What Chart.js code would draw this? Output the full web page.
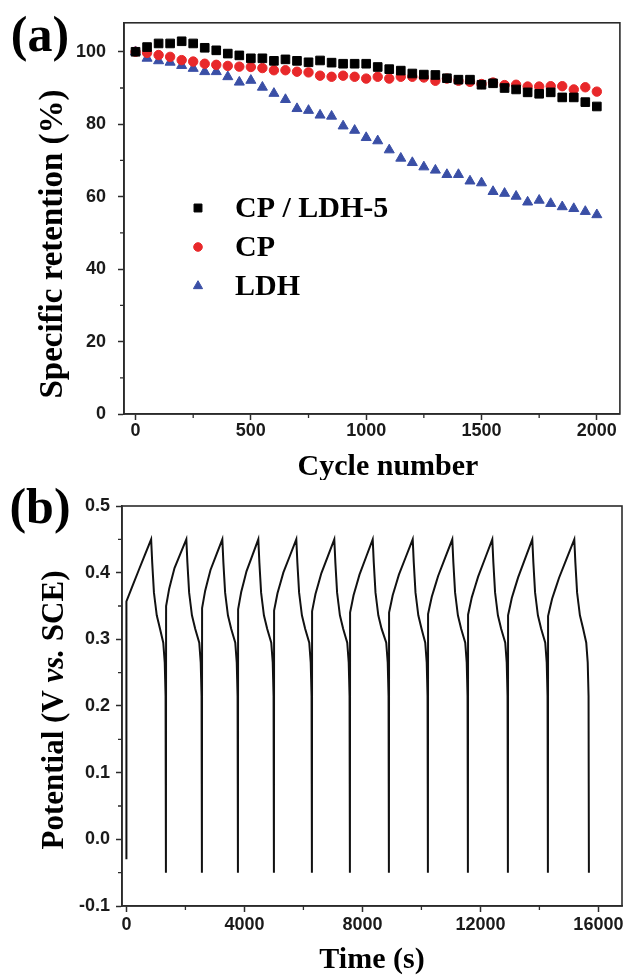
<!DOCTYPE html>
<html>
<head>
<meta charset="utf-8">
<script src="https://cdn.jsdelivr.net/npm/chart.js@4.4.1/dist/chart.umd.min.js"></script>
<style>
  body { margin: 0; background: #fff; width: 627px; height: 978px; overflow: hidden; position: relative; }
  .panel { position: absolute; left: 0; width: 627px; }
  #panelA { top: 0; height: 480px; }
  #panelB { top: 480px; height: 498px; }
</style>
</head>
<body>
<div class="panel" id="panelA"><canvas id="retentionChart" width="627" height="480"></canvas></div>
<div class="panel" id="panelB"><canvas id="gcdChart" width="627" height="498"></canvas></div>
<script>
// ---- panel (a): retention vs cycle number ----
const cycleNumbers = [0, 50, 100, 150, 200, 250, 300, 350, 400, 450, 500, 550, 600, 650, 700, 750, 800, 850, 900, 950,
    1000, 1050, 1100, 1150, 1200, 1250, 1300, 1350, 1400, 1450, 1500, 1550, 1600, 1650, 1700, 1750, 1800, 1850, 1900, 1950, 2000];
const retentionCpLdh = [100, 101.3, 102.3, 102.3, 102.9, 102.3, 101.1, 100.4, 99.5, 99.0, 98.2, 98.2, 97.5, 97.9, 97.5, 97.1, 97.6, 97.0, 96.7, 96.7,
    96.7, 95.8, 95.2, 94.8, 94.0, 93.7, 93.6, 92.7, 92.3, 92.3, 90.9, 91.3, 90.0, 89.6, 88.8, 88.4, 88.8, 87.4, 87.4, 86.1, 84.9];
const retentionCp = [100, 99.7, 99.1, 98.6, 97.7, 97.3, 96.7, 96.4, 96.1, 95.9, 95.8, 95.5, 94.9, 94.9, 94.5, 94.3, 93.4, 93.1, 93.4, 93.1,
    92.6, 93.1, 92.6, 93.1, 93.1, 92.9, 92.0, 92.6, 92.0, 91.7, 91.1, 91.5, 90.8, 90.9, 90.4, 90.4, 90.5, 90.5, 89.6, 90.2, 89.0];
const retentionLdh = [100, 98.2, 97.5, 97.1, 96.2, 95.4, 94.5, 94.5, 93.1, 91.6, 92.1, 90.2, 88.5, 86.8, 84.3, 83.8, 82.5, 82.2, 79.5, 78.3,
    76.3, 75.4, 72.9, 70.6, 69.4, 68.2, 67.3, 66.1, 66.1, 64.3, 63.8, 61.4, 60.9, 60.1, 58.5, 59.0, 58.1, 57.2, 56.7, 55.9, 55.0];
const seriesNames = ['CP / LDH-5', 'CP', 'LDH'];
const cycleTicks = [0, 500, 1000, 1500, 2000];
const cycleMinorTicks = [250, 750, 1250, 1750];
const retentionTicks = [0, 20, 40, 60, 80, 100];
const retentionMinorTicks = [10, 30, 50, 70, 90];

// ---- panel (b): galvanostatic charge / discharge ----
const gcdTime = [
    0, 0, 420, 838, 873, 933, 1028, 1138, 1249, 1299, 1327, 1339,
    1345, 1450, 1630, 2031, 2066, 2126, 2221, 2331, 2469, 2519, 2547, 2559,
    2565, 2670, 2850, 3251, 3286, 3346, 3441, 3551, 3690, 3740, 3768, 3780,
    3786, 3891, 4070, 4471, 4506, 4566, 4661, 4771, 4910, 4960, 4988, 5000,
    5006, 5121, 5319, 5759, 5794, 5854, 5949, 6059, 6198, 6248, 6276, 6288,
    6294, 6409, 6607, 7047, 7082, 7142, 7237, 7347, 7486, 7536, 7564, 7576,
    7582, 7700, 7901, 8349, 8384, 8444, 8539, 8649, 8808, 8858, 8886, 8898,
    8904, 9027, 9237, 9705, 9740, 9800, 9895, 10005, 10130, 10180, 10208, 10220,
    10226, 10352, 10567, 11047, 11082, 11142, 11237, 11347, 11486, 11536, 11564, 11576,
    11582, 11708, 11923, 12403, 12438, 12498, 12593, 12703, 12842, 12892, 12920, 12932,
    12938, 13064, 13279, 13759, 13794, 13854, 13949, 14059, 14198, 14248, 14276, 14288,
    14294, 14431, 14664, 15183, 15218, 15278, 15373, 15483, 15588, 15638, 15666, 15678
];
const gcdPotential = [
    -0.03, 0.357, 0.404, 0.45, 0.416, 0.37, 0.336, 0.316, 0.295, 0.265, 0.215, -0.05,
    0.350, 0.376, 0.407, 0.45, 0.416, 0.37, 0.336, 0.316, 0.295, 0.265, 0.215, -0.05,
    0.347, 0.373, 0.404, 0.45, 0.416, 0.37, 0.336, 0.316, 0.295, 0.265, 0.215, -0.05,
    0.345, 0.371, 0.402, 0.45, 0.416, 0.37, 0.336, 0.316, 0.295, 0.265, 0.215, -0.05,
    0.343, 0.369, 0.400, 0.45, 0.416, 0.37, 0.336, 0.316, 0.295, 0.265, 0.215, -0.05,
    0.342, 0.368, 0.399, 0.45, 0.416, 0.37, 0.336, 0.316, 0.295, 0.265, 0.215, -0.05,
    0.340, 0.366, 0.397, 0.45, 0.416, 0.37, 0.336, 0.316, 0.295, 0.265, 0.215, -0.05,
    0.340, 0.366, 0.397, 0.45, 0.416, 0.37, 0.336, 0.316, 0.295, 0.265, 0.215, -0.05,
    0.338, 0.364, 0.395, 0.45, 0.416, 0.37, 0.336, 0.316, 0.295, 0.265, 0.215, -0.05,
    0.337, 0.363, 0.394, 0.45, 0.416, 0.37, 0.336, 0.316, 0.295, 0.265, 0.215, -0.05,
    0.336, 0.362, 0.393, 0.45, 0.416, 0.37, 0.336, 0.316, 0.295, 0.265, 0.215, -0.05,
    0.335, 0.361, 0.392, 0.45, 0.416, 0.37, 0.336, 0.316, 0.295, 0.265, 0.215, -0.05
];
const timeTicks = [0, 4000, 8000, 12000, 16000];
const timeMinorTicks = [2000, 6000, 10000, 14000];
const potentialTicks = [-0.1, 0, 0.1, 0.2, 0.3, 0.4, 0.5];
const potentialMinorTicks = [-0.05, 0.05, 0.15, 0.25, 0.35, 0.45];

const SERIF = "'Liberation Serif', 'Times New Roman', serif";
const SANS = "'Liberation Sans', Arial, sans-serif";
const AXIS_COLOR = '#2b2b2b';
const tickFont = { family: SANS, size: 18, weight: 'bold' };

// draws a (possibly rotated) label made of several font runs, centred on x,y
function drawRuns(ctx, runs, x, y, rotate) {
    ctx.save();
    ctx.translate(x, y);
    if (rotate) ctx.rotate(-Math.PI / 2);
    ctx.textBaseline = 'middle';
    ctx.textAlign = 'left';
    ctx.fillStyle = '#000';
    let total = 0;
    runs.forEach(r => { ctx.font = r.font; total += ctx.measureText(r.text).width; });
    let cx = -total / 2;
    runs.forEach(r => {
        ctx.font = r.font;
        ctx.fillText(r.text, cx, 0);
        cx += ctx.measureText(r.text).width;
    });
    ctx.restore();
}

// box round the plot, short minor ticks, titles and panel letters
function makeDecorPlugin(cfg) {
    return {
        id: 'decor',
        afterDraw(chart) {
            const { ctx, chartArea: a, scales } = chart;
            ctx.save();
            ctx.strokeStyle = AXIS_COLOR;
            ctx.lineWidth = 1.6;
            ctx.strokeRect(a.left, a.top, a.right - a.left, a.bottom - a.top);
            ctx.lineWidth = 1.3;
            ctx.beginPath();
            cfg.xMinor.forEach(v => {
                const px = scales.x.getPixelForValue(v);
                ctx.moveTo(px, a.bottom);
                ctx.lineTo(px, a.bottom + 4);
            });
            cfg.yMinor.forEach(v => {
                const py = scales.y.getPixelForValue(v);
                ctx.moveTo(a.left, py);
                ctx.lineTo(a.left - 4, py);
            });
            ctx.stroke();
            ctx.restore();
            cfg.texts.forEach(t => drawRuns(ctx, t.runs, t.x, t.y, t.rotate));
            if (cfg.legend) cfg.legend(chart);
        }
    };
}

function axisOptions(min, max, ticks, fmt, size, isX, pad) {
    return {
        type: 'linear',
        min: min,
        max: max,
        afterBuildTicks: axis => { axis.ticks = ticks.map(v => ({ value: v })); },
        afterFit: scale => { if (isX) scale.height = size; else scale.width = size; },
        grid: { drawOnChartArea: false, drawTicks: true, tickLength: 6, tickColor: AXIS_COLOR, tickWidth: 1.5 },
        border: { display: true, color: AXIS_COLOR, width: 1.6 },
        ticks: { autoSkip: false, maxRotation: 0, font: tickFont, color: '#1a1a1a', padding: pad, callback: fmt }
    };
}

// ---------- chart (a) ----------
const retentionStyles = [
    { color: '#000000', pointStyle: 'rect', radius: 6.1, legendRadius: 5.6 },
    { color: '#e8282a', pointStyle: 'circle', radius: 4.7, legendRadius: 4.3 },
    { color: '#3a4fa6', pointStyle: 'triangle', radius: 5.8, legendRadius: 5.3 }
];
const retentionSeries = [retentionCpLdh, retentionCp, retentionLdh];

// legend sits inside the plot area, marker then left-aligned name
function drawLegend(chart) {
    const ctx = chart.ctx;
    const rows = [208, 247, 286];
    retentionStyles.forEach((s, i) => {
        ctx.save();
        ctx.fillStyle = s.color;
        ctx.strokeStyle = s.color;
        Chart.helpers.drawPoint(ctx, { pointStyle: s.pointStyle, radius: s.legendRadius, rotation: 0, borderWidth: 1 }, 198, rows[i]);
        ctx.fillStyle = '#000';
        ctx.font = 'bold 30px ' + SERIF;
        ctx.textBaseline = 'middle';
        ctx.textAlign = 'left';
        ctx.fillText(seriesNames[i], 235, rows[i] + 1);
        ctx.restore();
    });
}

new Chart(document.getElementById('retentionChart'), {
    type: 'line',
    data: {
        datasets: retentionSeries.map((vals, i) => ({
            label: seriesNames[i],
            data: cycleNumbers.map((c, j) => ({ x: c, y: vals[j] })),
            showLine: false,
            pointStyle: retentionStyles[i].pointStyle,
            pointRadius: retentionStyles[i].radius,
            pointBackgroundColor: retentionStyles[i].color,
            pointBorderColor: retentionStyles[i].color,
            pointBorderWidth: 1
        }))
    },
    options: {
        responsive: false,
        animation: false,
        events: [],
        layout: { padding: { top: 16, right: 5, left: 0, bottom: 0 } },
        plugins: { legend: { display: false }, tooltip: { enabled: false } },
        scales: {
            x: axisOptions(-50, 2100, cycleTicks, v => String(v), 66, true, 0),
            y: axisOptions(0, 108, retentionTicks, v => String(v), 124, false, 12)
        }
    },
    plugins: [makeDecorPlugin({
        xMinor: cycleMinorTicks,
        yMinor: retentionMinorTicks,
        legend: drawLegend,
        texts: [
            { runs: [{ text: '(a)', font: 'bold 50px ' + SERIF }], x: 40, y: 38 },
            { runs: [{ text: 'Cycle number', font: 'bold 30px ' + SERIF }], x: 388, y: 467 },
            { runs: [{ text: 'Specific retention (%)', font: 'bold 33px ' + SERIF }], x: 53, y: 244, rotate: true }
        ]
    })]
});

// ---------- chart (b) ----------
new Chart(document.getElementById('gcdChart'), {
    type: 'line',
    data: {
        datasets: [{
            label: 'GCD',
            data: gcdTime.map((t, i) => ({ x: t, y: gcdPotential[i] })),
            borderColor: '#111',
            borderWidth: 2,
            pointRadius: 0,
            tension: 0.001,
            fill: false
        }]
    },
    options: {
        responsive: false,
        animation: false,
        events: [],
        layout: { padding: { top: 26, right: 5, left: 0, bottom: 0 } },
        plugins: { legend: { display: false }, tooltip: { enabled: false } },
        scales: {
            x: axisOptions(-150, 16800, timeTicks, v => String(v), 72, true, 2),
            y: axisOptions(-0.1, 0.5, potentialTicks, v => v.toFixed(1), 122, false, 6)
        }
    },
    plugins: [makeDecorPlugin({
        xMinor: timeMinorTicks,
        yMinor: potentialMinorTicks,
        texts: [
            { runs: [{ text: '(b)', font: 'bold 50px ' + SERIF }], x: 40, y: 30 },
            { runs: [{ text: 'Time (s)', font: 'bold 30px ' + SERIF }], x: 372, y: 480 },
            {
                runs: [
                    { text: 'Potential (V ', font: 'bold 31px ' + SERIF },
                    { text: 'vs.', font: 'italic bold 31px ' + SERIF },
                    { text: ' SCE)', font: 'bold 31px ' + SERIF }
                ],
                x: 55, y: 230, rotate: true
            }
        ]
    })]
});
</script>
</body>
</html>
